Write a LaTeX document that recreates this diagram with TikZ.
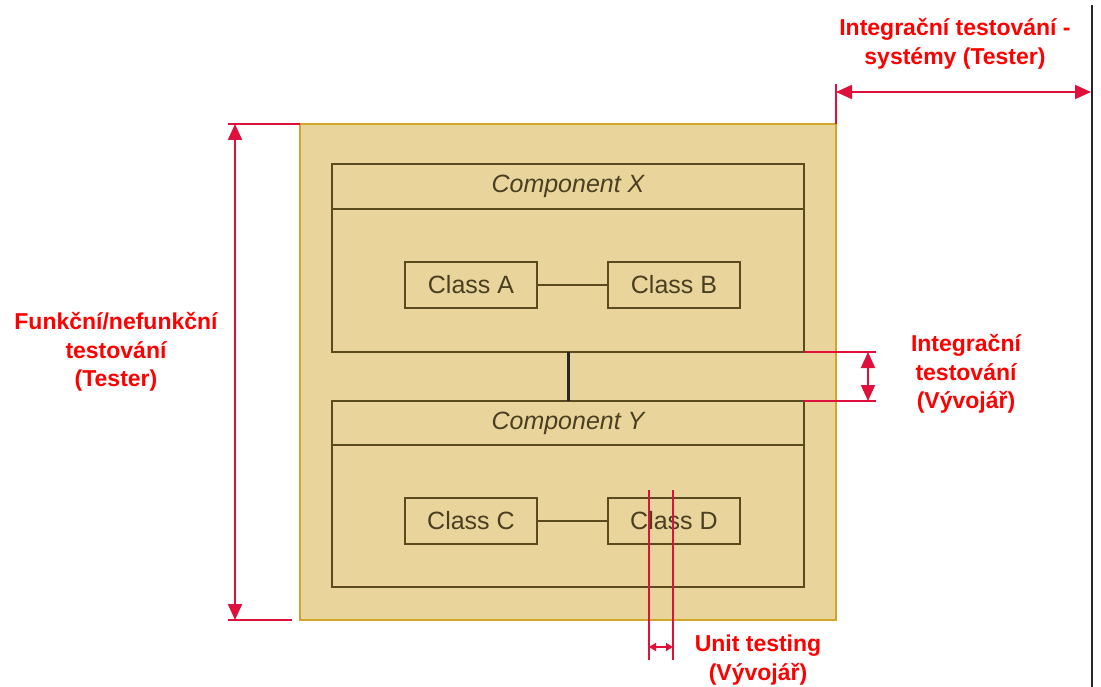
\documentclass[tikz,border=0pt]{standalone}
\usepackage{fontspec}
\setmainfont{Liberation Sans}
\usetikzlibrary{arrows.meta}
\definecolor{tanfill}{HTML}{E9D59B}
\definecolor{goldline}{HTML}{D1A52A}
\definecolor{brownline}{HTML}{5A4A1E}
\definecolor{browntext}{HTML}{4A3F22}
\definecolor{redline}{HTML}{E0103C}
\definecolor{redtext}{HTML}{FF0000}
\tikzset{
  every node/.style={outer sep=0pt},
  outerbox/.style={draw=goldline, line width=2pt, fill=tanfill, minimum width=536pt, minimum height=496pt, inner sep=0pt},
  comphead/.style={draw=brownline, line width=2.8pt, minimum width=472pt, inner sep=0pt, text=browntext, font=\fontsize{25}{30}\selectfont\itshape},
  compbody/.style={draw=brownline, line width=2.8pt, minimum width=472pt, inner sep=0pt},
  classbox/.style={draw=brownline, line width=2.8pt, minimum width=132pt, minimum height=46pt, inner sep=0pt, text=browntext, font=\fontsize{25}{30}\selectfont},
  classlink/.style={draw=brownline, line width=2pt},
  complink/.style={draw=black!85, line width=3pt},
  redln/.style={draw=redline, line width=2pt},
  bigarrows/.style={redln, {Triangle[length=16pt,width=14pt]}-{Triangle[length=16pt,width=14pt]}},
  smallarrows/.style={redln, {Triangle[length=7pt,width=8pt]}-{Triangle[length=7pt,width=8pt]}},
  redlabel/.style={text=redtext, align=center, font=\fontsize{23}{28.5}\selectfont\bfseries, inner sep=0pt}
}
\begin{document}
\begin{tikzpicture}[x=1pt,y=-1pt]
\useasboundingbox (0,0) rectangle (1101,687);
% outer area
\node[outerbox] (outer) at (568,372) {};
% Component X
\node[comphead, minimum height=45pt] (cxh) at (568,186.5) {Component X};
\node[compbody, minimum height=143pt, anchor=north] (cxb) at (cxh.south) {};
% Component Y
\node[comphead, minimum height=44pt] (cyh) at (568,423) {Component Y};
\node[compbody, minimum height=142pt, anchor=north] (cyb) at (cyh.south) {};
% classes
\node[classbox] (ca) at (471,285) {Class A};
\node[classbox] (cb) at (674,285) {Class B};
\node[classbox] (cc) at (471,521) {Class C};
\node[classbox] (cd) at (674,521) {Class D};
\draw[classlink] (ca) -- (cb);
\draw[classlink] (cc) -- (cd);
\draw[complink] (cxb.south) -- (cyh.north);
% left dimension
\coordinate (lt) at (228,124);
\coordinate (lb) at (228,620);
\coordinate (lbe) at (292,620);
\coordinate (la1) at (235,124);
\coordinate (la2) at (235,620);
\draw[redln] (lt) -- (outer.north west);
\draw[redln] (lb) -- (lbe);
\draw[bigarrows] (la1) -- (la2);
\node[redlabel] (lfunc) at (116,352) {Funkční/nefunkční\\testování\\(Tester)};
% top right dimension
\coordinate (tr1) at (836,84);
\coordinate (ta1) at (836,92);
\coordinate (ta2) at (1091,92);
\coordinate (bl1) at (1092,5);
\coordinate (bl2) at (1092,687);
\draw[redln] (outer.north east) -- (tr1);
\draw[bigarrows] (ta1) -- (ta2);
\draw[draw=black!85, line width=2pt] (bl1) -- (bl2);
\node[redlabel] (lsys) at (955,44) {Integrační testování -\\systémy (Tester)};
% integration dimension
\coordinate (ix1) at (876,352);
\coordinate (iy1) at (876,401);
\coordinate (ia1) at (868,352);
\coordinate (ia2) at (868,401);
\draw[redln] (cxb.south east) -- (ix1);
\draw[redln] (cyh.north east) -- (iy1);
\draw[bigarrows] (ia1) -- (ia2);
\node[redlabel] (lint) at (966,374) {Integrační\\testování\\(Vývojář)};
% unit testing dimension
\coordinate (u1a) at (649,490);
\coordinate (u1b) at (649,660);
\coordinate (u2a) at (673,490);
\coordinate (u2b) at (673,660);
\coordinate (ua1) at (649,647);
\coordinate (ua2) at (673,647);
\draw[redln] (u1a) -- (u1b);
\draw[redln] (u2a) -- (u2b);
\draw[smallarrows] (ua1) -- (ua2);
\node[redlabel] (lunit) at (758,660) {Unit testing\\(Vývojář)};
\end{tikzpicture}
\end{document}
